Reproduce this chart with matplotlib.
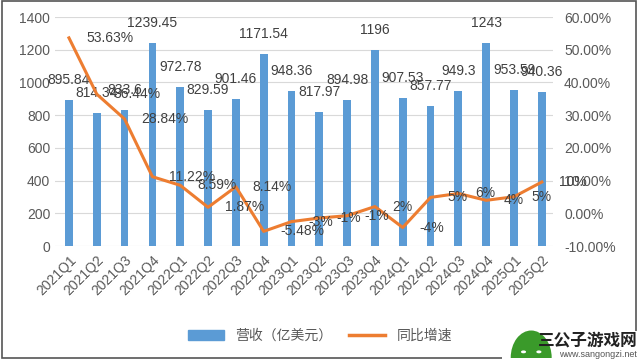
import matplotlib.pyplot as plt
import matplotlib.patches as mpatches
import numpy as np

plt.rcParams['font.family'] = ['Liberation Sans', 'Noto Sans CJK SC', 'DejaVu Sans']

quarters = ['2021Q1', '2021Q2', '2021Q3', '2021Q4', '2022Q1', '2022Q2', '2022Q3', '2022Q4',
            '2023Q1', '2023Q2', '2023Q3', '2023Q4', '2024Q1', '2024Q2', '2024Q3', '2024Q4',
            '2025Q1', '2025Q2']
revenue = [895.84, 814.34, 833.6, 1239.45, 972.78, 829.59, 901.46, 1171.54,
           948.36, 817.97, 894.98, 1196, 907.53, 857.77, 949.3, 1243, 953.59, 940.36]
revenue_labels = ['895.84', '814.34', '833.6', '1239.45', '972.78', '829.59', '901.46', '1171.54',
                  '948.36', '817.97', '894.98', '1196', '907.53', '857.77', '949.3', '1243',
                  '953.59', '940.36']
growth = [53.63, 36.44, 28.84, 11.22, 8.59, 1.87, 8.14, -5.48,
          -2.5, -1.4, -0.7, 2.1, -4.3, 4.9, 6.1, 4.0, 5.1, 9.6]
growth_labels = ['53.63%', '36.44%', '28.84%', '11.22%', '8.59%', '1.87%', '8.14%', '-5.48%',
                 '-3%', '-1%', '-1%', '2%', '-4%', '5%', '6%', '4%', '5%', '10%']

bar_c = '#5B9BD5'
line_c = '#ED7D31'
txt_c = '#404040'
tick_c = '#595959'

fig = plt.figure(figsize=(6.4, 3.62), dpi=100)
ax = fig.add_axes([0.086, 0.320, 0.778, 0.633])
x = np.arange(len(quarters))

ax.bar(x, revenue, width=0.28, color=bar_c, zorder=2)
for i in range(len(x)):
    ax.annotate(revenue_labels[i], (x[i], revenue[i]), xytext=(0, 20), textcoords='offset pixels',
                ha='center', va='center', fontsize=10, color=txt_c, zorder=5)

ax.set_ylim(0, 1400)
ax.set_yticks(np.arange(0, 1401, 200))
ax.set_xlim(-0.5, 17.4)
ax.set_xticks(x)
ax.set_xticklabels(quarters, rotation=45, ha='right', rotation_mode='anchor')
ax.grid(axis='y', color='#d9d9d9', linewidth=0.8, zorder=0)
ax.tick_params(length=0, labelsize=10, labelcolor=tick_c)
ax.tick_params(axis='x', pad=5)
for s in ax.spines.values():
    s.set_visible(False)

ax2 = ax.twinx()
ax2.plot(x, growth, color=line_c, linewidth=2.2, zorder=3)
for i in range(len(x)):
    ax2.annotate(growth_labels[i], (x[i], growth[i]), xytext=(17, 0), textcoords='offset pixels',
                 ha='left', va='center', fontsize=10, color=txt_c, zorder=5)
ax2.set_ylim(-10, 60)
ax2.set_yticks(np.arange(-10, 61, 10))
ax2.set_yticklabels(['%.2f%%' % v for v in np.arange(-10, 61, 10)])
ax2.tick_params(length=0, labelsize=10, labelcolor=tick_c, pad=8)
for s in ax2.spines.values():
    s.set_visible(False)

handles = [mpatches.Patch(color=bar_c, label='营收（亿美元）'),
           plt.Line2D([], [], color=line_c, linewidth=2.5, label='同比增速')]
fig.legend(handles=handles, loc='center', bbox_to_anchor=(0.5, 0.072), ncol=2, frameon=False,
           fontsize=10, labelcolor=tick_c, handlelength=2.6, columnspacing=1.2)

# chart frame
fig.patches.append(mpatches.Rectangle((0.003, 0.011), 0.99, 0.986, transform=fig.transFigure,
                                      fill=False, edgecolor='#555555', linewidth=1.2))

# site watermark
fig.patches.append(mpatches.Rectangle((0.785, 0.0), 0.215, 0.085, transform=fig.transFigure,
                                      facecolor='white', edgecolor='none'))
fig.patches.append(mpatches.Ellipse((0.830, 0.012), 0.064, 0.15, transform=fig.transFigure,
                                    facecolor='#3a9a2a', edgecolor='none'))
fig.patches.append(mpatches.Rectangle((0.785, 0.0), 0.1, 0.012, transform=fig.transFigure,
                                      facecolor='white', edgecolor='none'))
fig.patches.append(mpatches.Circle((0.818, 0.028), 0.004, transform=fig.transFigure,
                                   facecolor='white', edgecolor='none'))
fig.patches.append(mpatches.Circle((0.842, 0.028), 0.004, transform=fig.transFigure,
                                   facecolor='white', edgecolor='none'))
fig.text(0.997, 0.060, '三公子游戏网', ha='right', va='center', fontsize=12, fontweight='bold',
         color='#222222', family=['Noto Sans CJK SC', 'DejaVu Sans'])
fig.text(0.995, 0.022, 'www.sangongzi.net', ha='right', va='center', fontsize=6.5, color='#555555')

fig.savefig('out.png', dpi=100)
